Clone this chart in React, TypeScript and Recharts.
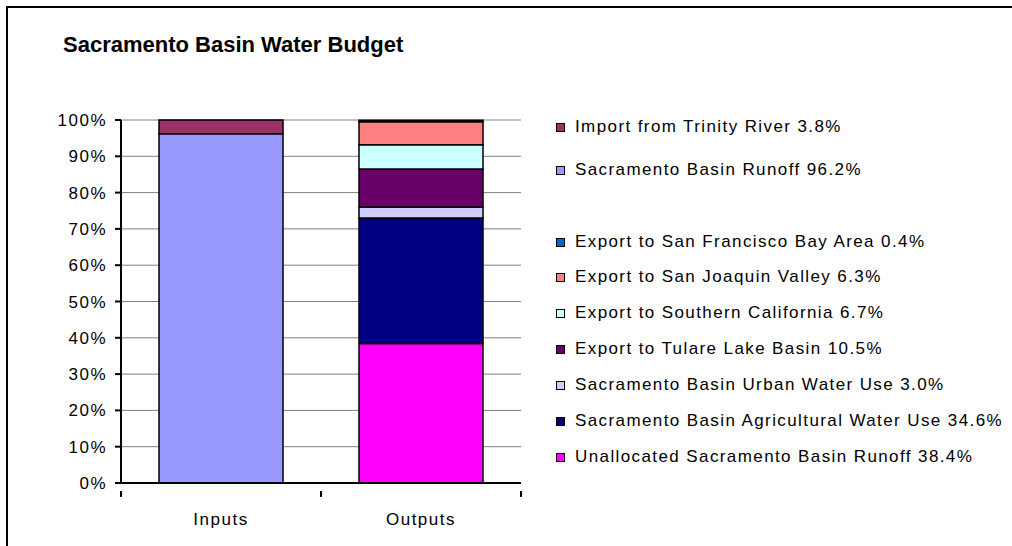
import React from 'react';
import { BarChart, Bar, XAxis, YAxis, CartesianGrid } from 'recharts';

const categories = ['Inputs', 'Outputs'];
const runoff = [96.2, 0];
const trinity = [3.8, 0];
const unallocated = [0, 38.4];
const agri = [0, 34.6];
const urban = [0, 3.0];
const tulare = [0, 10.5];
const southern = [0, 6.7];
const sanJoaquin = [0, 6.3];
const bayArea = [0, 0.4];
const yTicks = [0, 10, 20, 30, 40, 50, 60, 70, 80, 90, 100];

const series = [
  { key: 'runoff', vals: runoff, color: '#9999FF', label: 'Sacramento Basin Runoff 96.2%' },
  { key: 'trinity', vals: trinity, color: '#993366', label: 'Import from Trinity River 3.8%' },
  { key: 'unallocated', vals: unallocated, color: '#FF00FF', label: 'Unallocated Sacramento Basin Runoff 38.4%' },
  { key: 'agri', vals: agri, color: '#000080', label: 'Sacramento Basin Agricultural Water Use 34.6%' },
  { key: 'urban', vals: urban, color: '#CCCCFF', label: 'Sacramento Basin Urban Water Use 3.0%' },
  { key: 'tulare', vals: tulare, color: '#660066', label: 'Export to Tulare Lake Basin 10.5%' },
  { key: 'southern', vals: southern, color: '#CCFFFF', label: 'Export to Southern California 6.7%' },
  { key: 'sanJoaquin', vals: sanJoaquin, color: '#FF8080', label: 'Export to San Joaquin Valley 6.3%' },
  { key: 'bayArea', vals: bayArea, color: '#0066CC', label: 'Export to San Francisco Bay Area 0.4%' },
];

const data = categories.map((name, i) => {
  const row: any = { name };
  series.forEach(s => { row[s.key] = s.vals[i]; });
  return row;
});

// legend order top to bottom, null = blank slot
const legendOrder = ['trinity', 'runoff', null, 'bayArea', 'sanJoaquin', 'southern', 'tulare', 'urban', 'agri', 'unallocated'];
const legendY = [127, 170, 206, 242, 277, 313, 349, 385, 421, 457];

const XTick = (props: any) => {
  const { x, y, payload } = props;
  return (
    <g>
      <line x1={x - 100} y1={y} x2={x - 100} y2={y + 6} stroke="#000" strokeWidth={2} />
      <line x1={x + 100} y1={y} x2={x + 100} y2={y + 6} stroke="#000" strokeWidth={2} />
      <text x={x} y={y + 34} textAnchor="middle" fontSize={17} letterSpacing={1.5} fill="#000">{payload.value}</text>
    </g>
  );
};

const YTick = (props: any) => {
  const { x, y, payload } = props;
  return (
    <text x={x - 6} y={y + 6} textAnchor="end" fontSize={17} letterSpacing={1.5} fill="#000">{`${payload.value}%`}</text>
  );
};

export default function App() {
  return (
    <div style={{ position: 'fixed', left: 0, top: 0, width: 1012, height: 546, background: '#fff', overflow: 'hidden', fontFamily: 'Arial, "Liberation Sans", sans-serif' }}>
      <div style={{ position: 'absolute', left: 6, top: 6, width: 1100, height: 700, border: '2px solid #000' }} />
      <div style={{ position: 'absolute', left: 63, top: 32, fontSize: 22, fontWeight: 'bold' }}>Sacramento Basin Water Budget</div>
      <div style={{ position: 'absolute', left: 0, top: 0 }}>
        <BarChart width={1012} height={546} data={data} barCategoryGap="19%"
          margin={{ top: 120, left: 61, right: 491, bottom: 33 }}>
          <CartesianGrid vertical={false} stroke="#808080" horizontalValues={yTicks.slice(1)} />
          <YAxis width={60} domain={[0, 100]} ticks={yTicks}
            axisLine={{ stroke: '#000', strokeWidth: 2 }} tickLine={{ stroke: '#000', strokeWidth: 2 }}
            tickSize={6} tick={<YTick />} interval={0} />
          <XAxis dataKey="name" height={30} axisLine={{ stroke: '#000', strokeWidth: 2 }}
            tickLine={false} tick={<XTick />} interval={0} />
          {series.map(s => (
            <Bar key={s.key} dataKey={s.key} stackId="a" fill={s.color} stroke="#000" strokeWidth={1.5} isAnimationActive={false} />
          ))}
        </BarChart>
      </div>
      {legendOrder.map((k, i) => {
        if (!k) return null;
        const s = series.find(x => x.key === k)!;
        return (
          <div key={k} style={{ position: 'absolute', left: 556, top: legendY[i] - 10, height: 20, display: 'flex', alignItems: 'center', fontSize: 17, letterSpacing: 1.4, whiteSpace: 'nowrap' }}>
            <span style={{ width: 7, height: 7, background: s.color, border: '1.5px solid #000', marginRight: 10 }} />
            {s.label}
          </div>
        );
      })}
    </div>
  );
}
